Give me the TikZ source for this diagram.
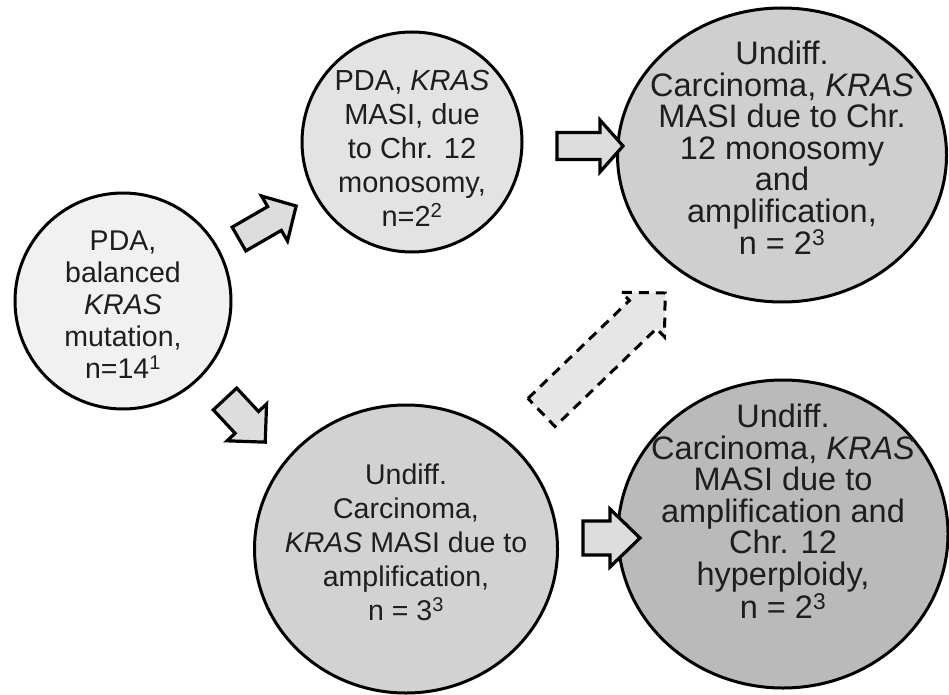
\documentclass[tikz,border=0pt]{standalone}
\usepackage{fontspec}
\setmainfont{Liberation Sans}
\usetikzlibrary{shapes.geometric}
\definecolor{fillA}{HTML}{F1F1F1}
\definecolor{fillB}{HTML}{E3E3E3}
\definecolor{fillC}{HTML}{CFCFCF}
\definecolor{fillD}{HTML}{D2D2D2}
\definecolor{fillE}{HTML}{BABABA}
\definecolor{arrowfill}{HTML}{DDDDDD}
\definecolor{dasharrowfill}{HTML}{E6E6E6}
\definecolor{inkgray}{HTML}{1E1E1E}
\tikzset{
  bub/.style={ellipse, draw=black, line width=3pt, inner sep=0pt, outer sep=0pt},
  txt/.style={align=center, inner sep=0pt, text=inkgray},
  blk/.style={draw=black, line width=3.2pt, fill=arrowfill, line join=miter},
  dashblk/.style={draw=black, line width=3pt, fill=dasharrowfill, dash pattern=on 10pt off 7pt, line join=miter},
}
% #1 tail coordinate, #2 angle, #3 total length, #4 head length, #5 shaft half width, #6 head half width, #7 style
\newcommand\blkarrow[7]{%
  \draw[#7, shift={(#1)}, rotate=#2]
    (0,-#5) -- ({#3-#4},-#5) -- ({#3-#4},-#6) -- (#3,0) -- ({#3-#4},#6) -- ({#3-#4},#5) -- (0,#5) -- cycle;}
\begin{document}
\begin{tikzpicture}[x=1pt,y=-1pt]
\useasboundingbox (0,0) rectangle (949,695);
\fill[white] (0,0) rectangle (949,695);

% circles
\node[bub, fill=fillA, minimum width=216pt, minimum height=216pt] (c1) at (123,301) {};
\node[bub, fill=fillB, minimum width=220pt, minimum height=220pt] (c2) at (412,142) {};
\node[bub, fill=fillC, minimum width=329pt, minimum height=294pt] (c3) at (782,155) {};
\node[bub, fill=fillD, minimum width=303pt, minimum height=288pt] (c4) at (406,549) {};
\node[bub, fill=fillE, minimum width=330pt, minimum height=308pt] (c5) at (783,534) {};

% texts
\node[txt, font=\fontsize{28.5}{32}\selectfont] (t1) at (123,305)
  {PDA,\\balanced\\\textit{KRAS}\\mutation,\\n=14\textsuperscript{1}};
\node[txt, font=\fontsize{29}{34}\selectfont] (t2) at (412,148)
  {PDA, \textit{KRAS}\\MASI, due\\to Chr. 12\\monosomy,\\n=2\textsuperscript{2}};
\node[txt, font=\fontsize{32.5}{31.5}\selectfont] (t3) at (782,148)
  {Undiff.\\Carcinoma, \textit{KRAS}\\MASI due to Chr.\\12 monosomy\\and\\amplification,\\n = 2\textsuperscript{3}};
\node[txt, font=\fontsize{28.5}{34}\selectfont] (t4) at (406,542)
  {Undiff.\\Carcinoma,\\\textit{KRAS} MASI due to\\amplification,\\n = 3\textsuperscript{3}};
\node[txt, font=\fontsize{32.5}{31.6}\selectfont] (t5) at (783,511)
  {Undiff.\\Carcinoma, \textit{KRAS}\\MASI due to\\amplification and\\Chr. 12\\hyperploidy,\\n = 2\textsuperscript{3}};

% arrow tails
\coordinate (a1) at (239,239);
\coordinate (a2) at (225,399);
\coordinate (a3) at (557,146);
\coordinate (a4) at (583,538);
\coordinate (a5) at (541.5,412.5);

\blkarrow{a1}{30}{66}{25}{13.7}{26}{blk}
\blkarrow{a2}{-47}{59}{27}{16}{27}{blk}
\blkarrow{a3}{0}{66}{23}{13.5}{26}{blk}
\blkarrow{a4}{0}{57}{30}{17}{29}{blk}
\blkarrow{a5}{44}{172}{31}{19.5}{31}{dashblk}
\end{tikzpicture}
\end{document}
